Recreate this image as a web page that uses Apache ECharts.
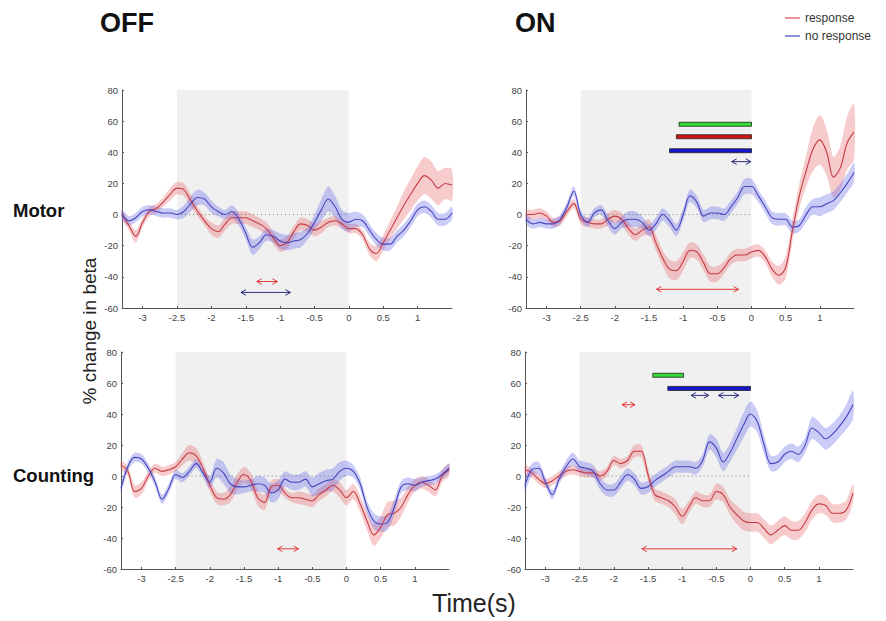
<!DOCTYPE html>
<html><head><meta charset="utf-8">
<script src="https://cdn.jsdelivr.net/npm/echarts@6/dist/echarts.min.js"></script>
<style>html,body{margin:0;padding:0;background:#fff}#c{width:886px;height:621px}</style>
</head><body><div id="c"></div>
<script>
// time axis (s)
const times = [-3.3,-3.2,-3.1,-3,-2.9,-2.8,-2.7,-2.6,-2.5,-2.4,-2.3,-2.2,-2.1,-2,-1.9,-1.8,-1.7,-1.6,-1.5,-1.4,-1.3,-1.2,-1.1,-1,-0.9,-0.8,-0.7,-0.6,-0.5,-0.4,-0.3,-0.2,-0.1,0,0.1,0.2,0.3,0.4,0.5,0.6,0.7,0.8,0.9,1,1.1,1.2,1.3,1.4,1.5];
const xTicks = [-3,-2.5,-2,-1.5,-1,-0.5,0,0.5,1];
const yTicks = [-60,-40,-20,0,20,40,60,80];
const seriesNames = ['response','no response'];

// OFF - Motor
const offMotorResp = [0,-7,-14,-5,2,4,8,13, 17,16,9,2,-4,-9,-11,-6,-2,-2, -2,-4,-6,-9,-15,-20,-18,-11,-6,-7, -10,-8,-5,-4,-6,-9,-9,-13,-22,-25, -18,-10,-2,6,13,20,25,22,17,20,19];
const offMotorRespSem = [3,3,4,3,3,3,3,4, 4,4,4,3,3,4,4,4,4,4, 4,4,4,4,4,4,4,4,4,4, 4,4,3,3,3,3,3,3,4,5, 5,6,7,9,10,11,12,12,11,10,10];
const offMotorNoResp = [0,-4,-2,2,3,2,1,1, 0,2,7,11,10,5,2,0,2,-3, -12,-21,-18,-13,-14,-17,-18,-17,-16,-12, -5,3,10,5,-3,-5,-3,-4,-10,-16, -19,-19,-14,-10,-4,3,5,2,-3,-3,1];
const offMotorNoRespSem = [3,3,3,3,3,3,3,3, 3,4,5,5,4,4,3,3,4,4, 4,5,4,4,4,5,5,5,5,4, 5,7,8,7,6,6,5,4,4,4, 4,4,4,4,4,4,4,4,4,4,4];
const offMotorArrows = [[-1.34,-1.04,-43,0],[-1.57,-0.85,-50,1]];
const offMotorBars = [];

// ON - Motor
const onMotorResp = [0,0,1,-1,-5,-4,2,7, -3,-5,-6,-6,-3,-1,-3,-9,-13,-10, -8,-18,-28,-35,-36,-30,-23,-24,-31,-38, -38,-34,-28,-26,-26,-24,-23,-27,-35,-39, -34,-10,12,28,42,48,40,24,30,46,53];
const onMotorRespSem = [3,3,3,3,3,3,3,3, 3,3,3,3,4,4,4,4,4,4, 5,5,5,6,6,6,5,5,5,5, 5,4,4,4,4,4,4,4,5,6, 7,7,8,10,14,16,15,13,14,17,18];
const onMotorNoResp = [-3,-6,-5,-6,-6,-3,5,15, 0,-5,1,3,-4,-9,-5,-3,-3,-5, -10,-6,0,-4,-10,0,12,8,-1,1, 1,0,5,11,18,18,12,5,-2,-3, -3,-8,-7,0,5,5,7,9,14,20,27];
const onMotorNoRespSem = [3,3,3,3,3,3,3,3, 3,3,3,3,4,4,4,5,5,4, 4,4,4,4,4,4,4,4,4,4, 4,4,4,4,5,5,4,4,4,4, 4,4,4,5,5,6,6,6,6,6,6];
const onMotorArrows = [[-0.29,-0.01,34,1],[-1.39,-0.19,-48,0]];
const onMotorBars = [[-1.06,0,58,0],[-1.10,0,50,1],[-1.20,0,41,2]];

// OFF - Counting
const offCountResp = [7,3,-10,-8,0,5,3,4, 6,11,15,13,5,-6,-14,-15,-12,-4, 1,-3,-14,-17,-7,-6,-11,-14,-14,-15, -16,-12,-9,-6,-9,-14,-10,-18,-29,-38, -33,-25,-24,-20,-12,-6,-4,-6,-9,0,4];
const offCountRespSem = [3,3,4,4,3,3,3,3, 3,4,5,5,4,4,4,4,5,5, 5,5,5,5,4,4,3,3,4,4, 4,4,4,4,5,5,5,5,6,7, 7,8,8,6,5,4,4,4,4,4,4];
const offCountNoResp = [-8,6,12,11,5,-4,-15,-8, 1,-1,3,8,2,-4,5,2,-5,-7, -7,-6,-5,-6,-11,-9,-2,-4,-4,-2, -7,-5,-3,-2,3,5,3,-5,-20,-29, -31,-30,-20,-7,-5,-6,-4,-3,-2,1,5];
const offCountNoRespSem = [3,3,3,3,3,3,3,3, 3,3,3,3,3,4,6,7,6,5, 4,4,5,5,6,6,5,5,5,5, 6,7,7,7,6,5,4,4,4,5, 5,5,5,4,4,4,3,3,3,3,3];
const offCountArrows = [[-1.01,-0.70,-47,0]];
const offCountBars = [];

// ON - Counting
const onCountResp = [4,2,-2,-5,-3,0,3,4, 3,2,2,0,3,10,8,10,16,16, 1,-12,-14,-16,-20,-26,-20,-14,-16,-16, -10,-12,-20,-25,-29,-30,-30,-34,-38,-35, -32,-35,-35,-30,-22,-18,-19,-24,-24,-22,-11];
const onCountRespSem = [3,3,3,3,3,3,3,3, 3,3,3,3,3,3,3,3,4,4, 4,4,4,4,5,5,4,4,4,4, 5,5,5,6,6,6,6,6,6,6, 6,6,6,6,6,6,6,6,6,6,6];
const onCountNoResp = [-6,4,5,-4,-12,-2,6,11, 6,5,3,-5,-9,-9,-4,1,-2,-8, -7,-3,0,3,6,6,6,5,10,22, 18,9,15,24,33,40,35,20,8,9, 14,16,14,20,31,28,24,27,32,38,46];
const onCountNoRespSem = [4,4,4,3,3,3,4,4, 4,4,4,4,4,4,4,4,4,4, 4,4,4,4,4,4,4,4,4,5, 6,6,6,7,8,8,7,6,5,5, 5,5,5,5,7,7,7,7,7,8,9];
const onCountArrows = [[-1.88,-1.69,46,0],[-0.87,-0.61,52,1],[-0.47,-0.17,52,1],[-1.59,-0.20,-47,0]];
const onCountBars = [[-1.43,-0.98,65,0],[-1.21,0,56.5,2]];

const panels = [
  {grid:{left:122,top:90,width:330,height:218}, r:offMotorResp, rs:offMotorRespSem, b:offMotorNoResp, bs:offMotorNoRespSem, arrows:offMotorArrows, bars:offMotorBars},
  {grid:{left:526,top:90,width:328,height:218}, r:onMotorResp, rs:onMotorRespSem, b:onMotorNoResp, bs:onMotorNoRespSem, arrows:onMotorArrows, bars:onMotorBars},
  {grid:{left:121,top:352,width:328,height:217}, r:offCountResp, rs:offCountRespSem, b:offCountNoResp, bs:offCountNoRespSem, arrows:offCountArrows, bars:offCountBars},
  {grid:{left:525,top:352,width:328,height:217}, r:onCountResp, rs:onCountRespSem, b:onCountNoResp, bs:onCountNoRespSem, arrows:onCountArrows, bars:onCountBars}
];

const FONT = '"Liberation Sans", Arial, sans-serif';
const arrowColors = ['#e43a3a', '#2e2e80'];
const barColors = ['#33dd33', '#cc1515', '#1515cc'];

const grids = [], xAxes = [], yAxes = [], series = [];
panels.forEach((p, i) => {
  grids.push(Object.assign({containLabel:false}, p.grid));
  xAxes.push({gridIndex:i, type:'value', min:-3.3, max:1.5,
    splitLine:{show:false},
    axisTick:{show:true, inside:true, length:2, customValues:xTicks, lineStyle:{color:'#555'}},
    axisLine:{show:true, onZero:false, lineStyle:{color:'#555', width:1}},
    axisLabel:{fontSize:9.5, color:'#444', margin:4, fontFamily:FONT, customValues:xTicks,
      formatter:v => String(Math.abs(v) < 1e-9 ? 0 : v)}
  });
  yAxes.push({gridIndex:i, type:'value', min:-60, max:80,
    splitLine:{show:false},
    axisTick:{show:true, inside:true, length:2, customValues:yTicks, lineStyle:{color:'#555'}},
    axisLine:{show:true, onZero:false, lineStyle:{color:'#555', width:1}},
    axisLabel:{fontSize:9.5, color:'#444', margin:4, fontFamily:FONT, customValues:yTicks}
  });
  // shaded window and dotted zero line
  series.push({type:'custom', xAxisIndex:i, yAxisIndex:i, z:0, silent:true, data:[[-2.5, 0]],
    renderItem:(params, api) => {
      const a = api.coord([-2.5, 80]), b = api.coord([0, -60]);
      const z1 = api.coord([-2.5, 0]), z2 = api.coord([0, 0]);
      return {type:'group', children:[
        {type:'rect', shape:{x:a[0], y:a[1], width:b[0]-a[0], height:b[1]-a[1]}, style:{fill:'#f0f0f0'}},
        {type:'line', shape:{x1:z1[0], y1:z1[1], x2:z2[0], y2:z2[1]}, style:{stroke:'#777', lineWidth:1, lineDash:[1,3]}}
      ]};
    }});
  const band = (mean, sem, fill) => ({type:'custom', xAxisIndex:i, yAxisIndex:i, z:1, silent:true, data:[[times[0], mean[0]]],
    renderItem:(params, api) => {
      const up = times.map((t,k) => api.coord([t, mean[k] + sem[k]]));
      const lo = times.map((t,k) => api.coord([t, mean[k] - sem[k]])).reverse();
      return {type:'polygon', shape:{points:up.concat(lo), smooth:0.3}, style:{fill:fill}};
    }});
  series.push(band(p.r, p.rs, 'rgba(232,96,96,0.33)'));
  series.push(band(p.b, p.bs, 'rgba(96,96,232,0.33)'));
  series.push({type:'line', name:seriesNames[0], xAxisIndex:i, yAxisIndex:i, z:3, silent:true,
    data:times.map((t,k) => [t, p.r[k]]), smooth:0.35, showSymbol:false, symbol:'none',
    itemStyle:{color:'#e07070'}, lineStyle:{color:'#c83c46', width:1.1}});
  series.push({type:'line', name:seriesNames[1], xAxisIndex:i, yAxisIndex:i, z:3, silent:true,
    data:times.map((t,k) => [t, p.b[k]]), smooth:0.35, showSymbol:false, symbol:'none',
    itemStyle:{color:'#6a6ac8'}, lineStyle:{color:'#4646c0', width:1.1}});
  if (p.arrows.length) series.push({type:'custom', xAxisIndex:i, yAxisIndex:i, z:4, silent:true,
    data:p.arrows, encode:{x:[0,1], y:2},
    renderItem:(params, api) => {
      const a = api.coord([api.value(0), api.value(2)]);
      const b = api.coord([api.value(1), api.value(2)]);
      const col = arrowColors[api.value(3)];
      const h = 5, w = 2.8;
      return {type:'group', children:[
        {type:'line', shape:{x1:a[0], y1:a[1], x2:b[0], y2:b[1]}, style:{stroke:col, lineWidth:1}},
        {type:'polyline', shape:{points:[[a[0]+h, a[1]-w],[a[0], a[1]],[a[0]+h, a[1]+w]]}, style:{stroke:col, fill:null, lineWidth:1}},
        {type:'polyline', shape:{points:[[b[0]-h, b[1]-w],[b[0], b[1]],[b[0]-h, b[1]+w]]}, style:{stroke:col, fill:null, lineWidth:1}}
      ]};
    }});
  if (p.bars.length) series.push({type:'custom', xAxisIndex:i, yAxisIndex:i, z:4, silent:true,
    data:p.bars, encode:{x:[0,1], y:2},
    renderItem:(params, api) => {
      const a = api.coord([api.value(0), api.value(2)]);
      const b = api.coord([api.value(1), api.value(2)]);
      return {type:'rect', shape:{x:a[0], y:a[1]-2, width:b[0]-a[0], height:4},
        style:{fill:barColors[api.value(3)], stroke:'#222', lineWidth:0.8}};
    }});
});

const chart = echarts.init(document.getElementById('c'), null, {renderer:'svg', width:886, height:621});
chart.setOption({
  animation:false,
  backgroundColor:'#fff',
  grid:grids, xAxis:xAxes, yAxis:yAxes, series:series,
  legend:{data:seriesNames, orient:'vertical', right:10, top:7, icon:'rect', itemWidth:15, itemHeight:1.5, itemGap:6,
    textStyle:{fontSize:12, color:'#333', fontFamily:FONT}, selectedMode:false},
  graphic:[
    {type:'text', x:100, y:23, style:{text:'OFF', fill:'#111', font:'bold 27px ' + FONT, verticalAlign:'middle'}},
    {type:'text', x:515, y:23, style:{text:'ON', fill:'#111', font:'bold 27px ' + FONT, verticalAlign:'middle'}},
    {type:'text', x:13, y:210, style:{text:'Motor', fill:'#111', font:'bold 18.5px ' + FONT, verticalAlign:'middle'}},
    {type:'text', x:13, y:475, style:{text:'Counting', fill:'#111', font:'bold 18.5px ' + FONT, verticalAlign:'middle'}},
    {type:'text', x:89, y:331, rotation:Math.PI/2, style:{text:'% change in beta', fill:'#222', font:'19px ' + FONT, align:'center', verticalAlign:'middle'}},
    {type:'text', x:474, y:603, style:{text:'Time(s)', fill:'#222', font:'25px ' + FONT, align:'center', verticalAlign:'middle'}}
  ]
});
</script>
</body></html>
